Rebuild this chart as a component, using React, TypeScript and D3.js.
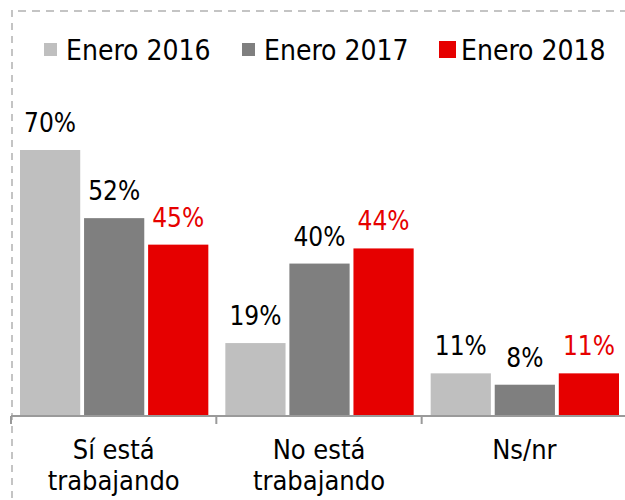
import React from "react";
import * as d3 from "d3";

const categories: string[][] = [["Sí está", "trabajando"], ["No está", "trabajando"], ["Ns/nr"]];
const categoryKeys = ["si", "no", "nsnr"];
const seriesNames = ["Enero 2016", "Enero 2017", "Enero 2018"];
const values2016 = [70, 19, 11];
const values2017 = [52, 40, 8];
const values2018 = [45, 44, 11];
const seriesColors = ["#BFBFBF", "#7F7F7F", "#E60000"];
const labelColors = ["#000000", "#000000", "#E60000"];

const W = 625;
const H = 500;
const FONT = "'DejaVu Sans Condensed', 'DejaVu Sans', sans-serif";

export default function App() {
  const seriesValues = [values2016, values2017, values2018];
  const baseY = 415;
  const x0 = d3.scaleBand<string>().domain(categoryKeys).range([11, 627]).paddingInner(0).paddingOuter(0);
  const x1 = d3
    .scaleBand<string>()
    .domain(seriesNames)
    .range([9, x0.bandwidth() - 8])
    .paddingInner(0.06)
    .paddingOuter(0);
  const y = d3.scaleLinear().domain([0, 70]).range([baseY, 150]);

  const legendX = [44, 242, 439];
  const legendSize = [13, 13, 17];

  return (
    <svg
      width={W}
      height={H}
      style={{ position: "absolute", left: 0, top: 0, background: "#fff" }}
      fontFamily={FONT}
      fontStretch="condensed"
    >
      <rect x={0} y={0} width={W} height={H} fill="#fff" />
      {/* dashed frame */}
      <line x1={18} y1={11} x2={W} y2={11} stroke="#C4C4C4" strokeWidth={2} strokeDasharray="8,6" />
      <line x1={12} y1={10} x2={12} y2={H} stroke="#C4C4C4" strokeWidth={2} strokeDasharray="7,6" />

      {/* legend */}
      {seriesNames.map((s, i) => (
        <g key={s}>
          <rect
            x={legendX[i]}
            y={49.5 - legendSize[i] / 2}
            width={legendSize[i]}
            height={legendSize[i]}
            fill={seriesColors[i]}
          />
          <text x={legendX[i] + 22} y={60} fontSize={28} fill="#000">
            {s}
          </text>
        </g>
      ))}

      {/* bars */}
      {categoryKeys.map((c, ci) => (
        <g key={c} transform={`translate(${x0(c)},0)`}>
          {seriesNames.map((s, si) => {
            const v = seriesValues[si][ci];
            const bx = x1(s)!;
            return (
              <g key={s}>
                <rect x={bx} y={y(v)} width={x1.bandwidth()} height={baseY - y(v)} fill={seriesColors[si]} />
                <text
                  x={bx + x1.bandwidth() / 2}
                  y={y(v) - 18}
                  textAnchor="middle"
                  fontSize={26}
                  fill={labelColors[si]}
                >
                  {`${v}%`}
                </text>
              </g>
            );
          })}
        </g>
      ))}

      {/* axis */}
      <line x1={11} y1={416} x2={W} y2={416} stroke="#9A9A9A" strokeWidth={2} />
      {[...categoryKeys.map((c) => x0(c)!), 627].map((t, i) => (
        <line key={i} x1={t} y1={416} x2={t} y2={424} stroke="#9A9A9A" strokeWidth={2} />
      ))}
      {categoryKeys.map((c, ci) => (
        <text
          key={c}
          x={x0(c)! + x0.bandwidth() / 2}
          textAnchor="middle"
          fontSize={27}
          fill="#000"
        >
          {categories[ci].map((line, li) => (
            <tspan key={li} x={x0(c)! + x0.bandwidth() / 2} y={459 + li * 31}>
              {line}
            </tspan>
          ))}
        </text>
      ))}
    </svg>
  );
}
